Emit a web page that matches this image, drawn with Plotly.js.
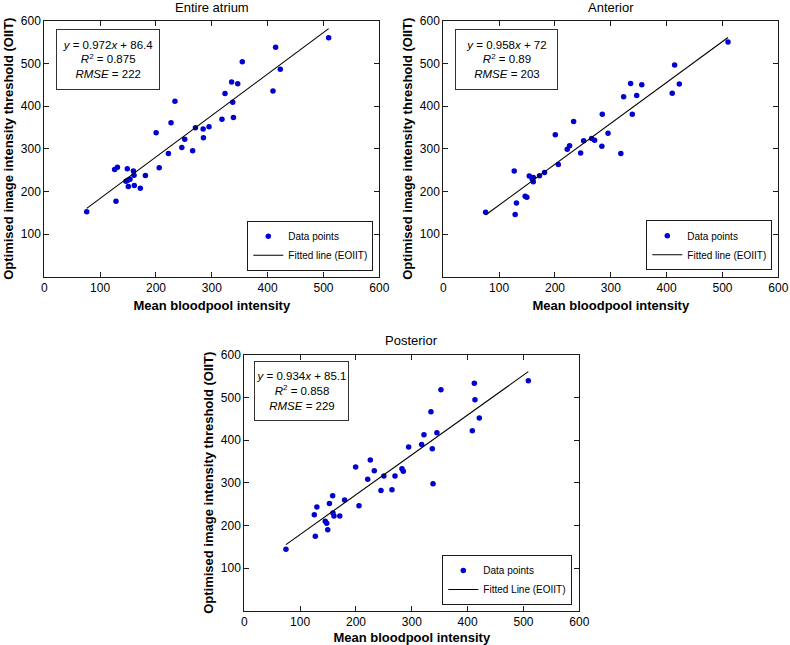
<!DOCTYPE html>
<html>
<head>
<meta charset="utf-8">
<script src="https://cdn.plot.ly/plotly-3.0.1.min.js"></script>
<style>html,body{margin:0;padding:0;background:#fff;}#chart{width:790px;height:645px;}</style>
</head>
<body>
<div id="chart"></div>
<script>
// ---- Data ----
const panelTitles = ["Entire atrium", "Anterior", "Posterior"];
const legendLineNames = ["Fitted line (EOIIT)", "Fitted line (EOIIT)", "Fitted Line (EOIIT)"];
const slopes = [0.972, 0.958, 0.934];
const intercepts = [86.4, 72, 85.1];
const r2Values = ["0.875", "0.89", "0.858"];
const rmseValues = ["222", "203", "229"];
const xTicks = [0, 100, 200, 300, 400, 500, 600];
const yTicks = [100, 200, 300, 400, 500, 600];

const entireX = [76, 128.4, 126, 131, 148.7, 146.3, 149.5, 153.5, 150.5, 159.5, 160.7, 161.2, 172, 181, 205.8, 200.3, 222.3, 227, 234, 246.3, 251.5, 265.7, 270.7, 284.5, 285, 295, 318.2, 323.6, 335.5, 337.5, 338.8, 346.4, 354.6, 409.6, 414.3, 422.7, 509.3];
const entireY = [152, 176.6, 251.5, 256.5, 253, 223.5, 226, 228.5, 211.5, 247.5, 238, 213.8, 207.5, 237.3, 255.3, 337.5, 289, 361, 411, 303, 322.3, 295, 349, 346, 325.8, 351.6, 368.8, 429.5, 456.2, 408.6, 373, 452.5, 504, 435, 537.5, 486, 560];

const anteriorX = [75.8, 127, 128.7, 131, 146.6, 149.6, 154, 159.4, 161.2, 161.2, 172.3, 181.3, 206, 200.6, 222, 226.2, 233.4, 246, 251.3, 265.7, 271, 284, 284.8, 295, 318, 323, 335.5, 338.5, 346.4, 355.5, 410, 414.3, 422.7, 509.9];
const anteriorY = [150.8, 248, 146, 173, 188.7, 186, 236, 228.5, 232.5, 222.5, 236.7, 244, 263, 332.8, 299, 307, 364, 290, 318.7, 324, 320, 306, 381, 336, 289, 422, 453, 380.8, 424.5, 450, 429.7, 496, 451.6, 550];

const posteriorX = [74.6, 127.2, 125.4, 130, 145, 147.6, 149.4, 152.5, 158.3, 158.8, 160.6, 171, 179.7, 205.4, 199.4, 221, 225.7, 232.8, 244.8, 250, 264.5, 269.9, 282.4, 284.8, 294.3, 317.6, 321.8, 334.3, 336.7, 338, 345, 352.2, 408.4, 412, 413.1, 420.9, 508.7];
const posteriorY = [143.8, 174.5, 225, 243, 209.5, 205, 190, 251.2, 269.5, 229, 222, 222, 259.5, 246, 336.7, 307.8, 353, 328, 282, 315.6, 283.6, 315.6, 332.8, 326.6, 383.6, 389.8, 412.5, 466.4, 379.7, 297.7, 417, 518, 421.9, 532.8, 494.5, 451.6, 539];

// ---- Layout geometry (paper fractions) ----
const W = 790, H = 645;
const px = v => v / W;
const py = v => 1 - v / H;
const panels = [
  {xs: entireX, ys: entireY, xd: [44.3, 379.3], yd: [20.7, 276.7], title: [211.8, 7], box: [107.7, 59.6, 100, 57], leg: [373.3, 270.7]},
  {xs: anteriorX, ys: anteriorY, xd: [443.3, 778.3], yd: [20.7, 276.7], title: [610.8, 7], box: [506.2, 59.6, 99, 57], leg: [772.3, 270.3]},
  {xs: posteriorX, ys: posteriorY, xd: [244.3, 579.3], yd: [354.7, 610.7], title: [411.8, 340.7], box: [301.8, 391.2, 91, 56], leg: [572.3, 605]}
];

const FONT = "Liberation Sans, Arial, Helvetica, sans-serif";
const INK = "#1a1a1a";
const traces = [];
const layout = {
  width: W, height: H,
  margin: {l: 0, r: 0, t: 0, b: 0},
  paper_bgcolor: "#fff", plot_bgcolor: "#fff",
  font: {family: FONT, color: "#000", size: 12},
  annotations: [], showlegend: true
};

panels.forEach((p, i) => {
  const n = i === 0 ? "" : String(i + 1);
  const xa = "x" + n, ya = "y" + n;
  const legName = "legend" + n;
  const xmin = Math.min(...p.xs), xmax = Math.max(...p.xs);
  traces.push({
    type: "scatter", mode: "markers", x: p.xs, y: p.ys, xaxis: xa, yaxis: ya,
    name: "Data points", legend: legName,
    marker: {color: "#0000d0", size: 5.5}, cliponaxis: false
  });
  traces.push({
    type: "scatter", mode: "lines", x: [xmin, xmax],
    y: [slopes[i] * xmin + intercepts[i], slopes[i] * xmax + intercepts[i]],
    xaxis: xa, yaxis: ya, name: legendLineNames[i], legend: legName,
    line: {color: "#000", width: 1.1}
  });
  const axCommon = {
    showline: true, linecolor: INK, linewidth: 1, mirror: "ticks",
    ticks: "inside", ticklen: 5, tickwidth: 1, tickcolor: INK,
    showgrid: false, zeroline: false, fixedrange: true,
    tickfont: {family: FONT, size: 12, color: "#000"}
  };
  layout["xaxis" + n] = Object.assign({}, axCommon, {
    domain: [px(p.xd[0]), px(p.xd[1])], range: [0, 600], anchor: ya,
    tickvals: xTicks, ticktext: xTicks.map(String),
    title: {text: "Mean bloodpool intensity", font: {family: FONT, size: 13, weight: "bold", color: "#000"}, standoff: 6}
  });
  layout["yaxis" + n] = Object.assign({}, axCommon, {
    domain: [py(p.yd[1]), py(p.yd[0])], range: [0, 600], anchor: xa,
    tickvals: yTicks, ticktext: yTicks.map(String),
    title: {text: "Optimised image intensity threshold (OIIT)", font: {family: FONT, size: 13, weight: "bold", color: "#000"}, standoff: 4}
  });
  layout[legName] = {
    x: px(p.leg[0]), y: py(p.leg[1]), xanchor: "right", yanchor: "bottom",
    xref: "paper", yref: "paper",
    bgcolor: "#fff", bordercolor: INK, borderwidth: 1,
    font: {family: FONT, size: 10, color: "#000"}, itemwidth: 30, tracegroupgap: 0
  };
  layout.annotations.push({
    xref: "paper", yref: "paper", x: px(p.title[0]), y: py(p.title[1]),
    xanchor: "center", yanchor: "middle", showarrow: false,
    text: panelTitles[i], font: {family: FONT, size: 13, color: "#000"}
  });
  layout.annotations.push({
    xref: "paper", yref: "paper", x: px(p.box[0]), y: py(p.box[1]),
    xanchor: "center", yanchor: "middle", showarrow: false,
    width: p.box[2], height: p.box[3], align: "center", valign: "middle",
    bordercolor: "#333", borderwidth: 1, borderpad: 1, bgcolor: "#fff",
    text: "<i>y</i> = " + slopes[i] + "<i>x</i> + " + intercepts[i] + "<br><i>R</i><sup>2</sup> = " + r2Values[i] + "<br><i>RMSE</i> = " + rmseValues[i],
    font: {family: FONT, size: 11.5, color: "#000"}
  });
});

Plotly.newPlot("chart", traces, layout, {displayModeBar: false, staticPlot: true});
</script>
</body>
</html>
